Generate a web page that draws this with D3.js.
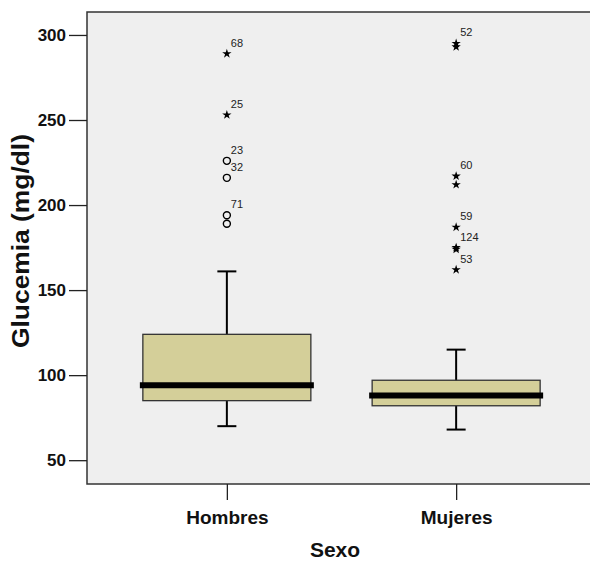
<!DOCTYPE html>
<html>
<head>
<meta charset="utf-8">
<script src="https://cdn.jsdelivr.net/npm/d3@7"></script>
<style>
  body { margin: 0; background: #fff; }
  svg { display: block; font-family: Arial, "Liberation Sans", sans-serif; }
  .axis text { font-weight: bold; font-size: 17px; fill: #111; }
  .axis path, .axis line { stroke: #222; stroke-width: 1.3; }
  .axis-title { font-weight: bold; fill: #111; }
  .case-label { font-size: 11px; fill: #222; }
</style>
</head>
<body>
<svg id="chart"></svg>
<script>
// box plot summary per group
const categories = ['Hombres', 'Mujeres'];
const whiskerLow = [70, 68];
const q1 = [85, 82];
const median = [94, 88];
const q3 = [124, 97];
const whiskerHigh = [161, 115];

// outliers: value, symbol (o = outlier, * = extreme), case label
const outValues = [
  [189, 194, 216, 226, 253, 289],
  [162, 174, 175, 187, 212, 217, 293, 295]
];
const outKinds = [
  ['o', 'o', 'o', 'o', '*', '*'],
  ['*', '*', '*', '*', '*', '*', '*', '*']
];
const outLabels = [
  ['', '71', '32', '23', '25', '68'],
  ['53', '', '124', '59', '', '60', '', '52']
];
const yTicks = [50, 100, 150, 200, 250, 300];

const config = {
  width: 590, height: 562,
  margin: { top: 12, left: 87, right: -6, bottom: 78 }
};

const svg = d3.select('#chart')
    .attr('width', config.width)
    .attr('height', config.height);

const plotLeft = config.margin.left;
const plotRight = config.width - config.margin.right;
const plotTop = config.margin.top;
const plotBottom = config.height - config.margin.bottom;

const xScale = d3.scalePoint()
    .domain(categories)
    .range([plotLeft, plotRight])
    .padding(0.61);

const yScale = d3.scaleLinear()
    .domain([36, 313.5])
    .range([plotBottom, plotTop]);

// plot background
svg.append('rect')
    .attr('x', plotLeft)
    .attr('y', plotTop)
    .attr('width', plotRight - plotLeft)
    .attr('height', plotBottom - plotTop)
    .attr('fill', '#efefef')
    .attr('stroke', '#333')
    .attr('stroke-width', 1.5);

// axes
const yAxis = d3.axisLeft(yScale)
    .tickValues(yTicks)
    .tickSize(18)
    .tickSizeOuter(0)
    .tickPadding(3);

const xAxis = d3.axisBottom(xScale)
    .tickSize(16)
    .tickSizeOuter(0)
    .tickPadding(11);

const yAxisG = svg.append('g')
    .attr('class', 'axis y-axis')
    .attr('transform', `translate(${plotLeft},0)`)
    .call(yAxis);
yAxisG.select('.domain').remove();

const xAxisG = svg.append('g')
    .attr('class', 'axis x-axis')
    .attr('transform', `translate(0,${plotBottom})`)
    .call(xAxis);
xAxisG.select('.domain').remove();
xAxisG.selectAll('text').style('font-size', '19px');

const boxW = 168;
const capW = 19;

const groups = svg.selectAll('.box')
    .data(categories)
    .join('g')
    .attr('class', 'box')
    .attr('transform', d => `translate(${xScale(d)},0)`);

// whiskers
groups.append('line')
    .attr('x1', 0).attr('x2', 0)
    .attr('y1', (d, i) => yScale(whiskerHigh[i]))
    .attr('y2', (d, i) => yScale(whiskerLow[i]))
    .attr('stroke', '#000')
    .attr('stroke-width', 2);

groups.selectAll('.cap')
    .data((d, i) => [whiskerLow[i], whiskerHigh[i]])
    .join('line')
    .attr('class', 'cap')
    .attr('x1', -capW / 2).attr('x2', capW / 2)
    .attr('y1', d => yScale(d))
    .attr('y2', d => yScale(d))
    .attr('stroke', '#000')
    .attr('stroke-width', 2);

// boxes
groups.append('rect')
    .attr('x', -boxW / 2)
    .attr('width', boxW)
    .attr('y', (d, i) => yScale(q3[i]))
    .attr('height', (d, i) => yScale(q1[i]) - yScale(q3[i]))
    .attr('fill', '#d4cf99')
    .attr('stroke', '#333')
    .attr('stroke-width', 1.3);

// median
groups.append('line')
    .attr('x1', -boxW / 2 - 3).attr('x2', boxW / 2 + 3)
    .attr('y1', (d, i) => yScale(median[i]))
    .attr('y2', (d, i) => yScale(median[i]))
    .attr('stroke', '#000')
    .attr('stroke-width', 6);

// outliers
const star = d3.symbol().type(d3.symbolStar).size(27);

groups.each(function(cat, i) {
  const g = d3.select(this);
  const pts = outValues[i].map((v, j) => ({ v, kind: outKinds[i][j], label: outLabels[i][j] }));

  g.selectAll('.outlier')
      .data(pts.filter(p => p.kind === 'o'))
      .join('circle')
      .attr('class', 'outlier')
      .attr('cx', 0)
      .attr('cy', d => yScale(d.v))
      .attr('r', 3.5)
      .attr('fill', 'none')
      .attr('stroke', '#000')
      .attr('stroke-width', 1.4);

  g.selectAll('.extreme')
      .data(pts.filter(p => p.kind === '*'))
      .join('path')
      .attr('class', 'extreme')
      .attr('d', star)
      .attr('transform', d => `translate(0,${yScale(d.v)})`)
      .attr('fill', '#000');

  g.selectAll('.case-label')
      .data(pts.filter(p => p.label))
      .join('text')
      .attr('class', 'case-label')
      .attr('x', 4)
      .attr('y', d => yScale(d.v) - 7)
      .text(d => d.label);
});

// axis titles
svg.append('text')
    .attr('class', 'axis-title')
    .attr('x', 335)
    .attr('y', 557)
    .style('text-anchor', 'middle')
    .style('font-size', '21px')
    .text('Sexo');

svg.append('text')
    .attr('class', 'axis-title')
    .attr('transform', `translate(29,${(plotTop + plotBottom) / 2 - 7}) rotate(-90)`)
    .style('text-anchor', 'middle')
    .style('font-size', '23px')
    .attr('textLength', 214)
    .attr('lengthAdjust', 'spacingAndGlyphs')
    .text('Glucemia (mg/dl)');
</script>
</body>
</html>
